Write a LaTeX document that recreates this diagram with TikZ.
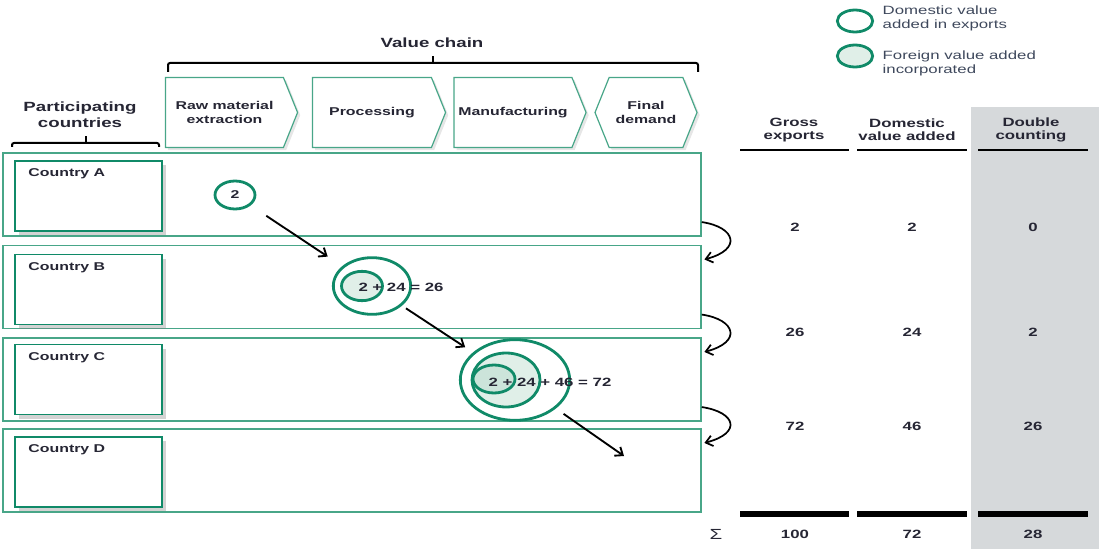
\documentclass[tikz,border=0pt]{standalone}
\usepackage{fontspec}
\setmainfont{Liberation Sans}[FakeStretch=1.4]
\usetikzlibrary{positioning,shapes.symbols,shapes.geometric,shadows,arrows.meta}

\definecolor{vcgreen}{RGB}{16,138,104}
\definecolor{rowgreen}{RGB}{72,166,136}
\definecolor{vafill}{RGB}{224,239,232}
\definecolor{vafilldark}{RGB}{204,228,218}
\definecolor{dcgrey}{RGB}{214,217,219}
\definecolor{ink}{RGB}{38,38,52}
\definecolor{keyink}{RGB}{62,72,92}

\begin{document}
\begin{tikzpicture}[x=0.75pt,y=-0.75pt,
	txt/.style={text=ink,font=\fontsize{8.5}{10}\selectfont\bfseries},
	hd/.style={txt,font=\fontsize{9}{9.75}\selectfont\bfseries,align=center},
	title/.style={txt,font=\fontsize{10}{12}\selectfont\bfseries,align=center},
	num/.style={txt,font=\fontsize{9}{10}\selectfont\bfseries},
	key/.style={text=keyink,font=\fontsize{9}{10.5}\selectfont,align=left,anchor=west},
	stage/.style={shape=signal,signal to=east,signal pointer angle=136,draw=rowgreen,
		line width=0.9pt,fill=white,minimum height=52.5pt,inner sep=1pt,align=center,txt,
		drop shadow={opacity=0.2,shadow xshift=2pt,shadow yshift=-2pt}},
	row/.style={draw=rowgreen,line width=1.1pt,minimum width=523.5pt,minimum height=62.25pt,inner sep=0pt},
	cbox/.style={draw=vcgreen,line width=1.1pt,fill=white,minimum width=110pt,minimum height=52.5pt,
		inner sep=0pt,drop shadow={opacity=0.35,shadow xshift=3pt,shadow yshift=-3pt}},
	ring/.style={ellipse,draw=vcgreen,line width=2.1pt,inner sep=0pt},
	flow/.style={-{Straight Barb[length=5pt,width=8pt]},line width=1.4pt,black},
	rule/.style={line width=2.2pt,black}]
	\useasboundingbox (0,0) rectangle (1099,549);

	% double counting column
	\fill[dcgrey] (971,107) rectangle (1099,549);

	% value chain stages
	\node[title] (vc) at (432,43) {Value chain};
	\draw[line width=1.5pt,rounded corners=1.5pt] (168,72) -- (168,63) -- (698,63) -- (698,72);
	\draw[line width=1.5pt] (433,63) -- (433,56);
	\node[stage,minimum width=99pt] (raw) at (224.5,112.5) {Raw material\\extraction};
	\node[stage,minimum width=99.75pt] (proc) at (372,112.5) {Processing};
	\node[stage,minimum width=99pt] (manu) at (513,112.5) {Manufacturing};
	\node[stage,signal to=west and east,minimum width=76.5pt] (final) at (646,112.5) {Final\\demand};

	% countries
	\node[title] (pc) at (80,115) {Participating\\countries};
	\draw[line width=1.5pt,rounded corners=1.5pt] (12,147) -- (12,143) -- (159,143) -- (159,147);
	\draw[line width=1.5pt] (86,143) -- (86,136);
	\foreach \c/\y/\by in {A/194.5/196,B/287/289.5,C/379.5/379.5,D/470.5/472} {
		\node[row] (row\c) at (352,\y) {};
		\node[cbox] (box\c) at (88.5,\by) {};
		\node[txt,below right=3pt and 7pt of box\c.north west] (lab\c) {Country \c};
	}

	% value added
	\node[ring,fill=white,minimum width=30pt,minimum height=21pt,txt] (circA) at (235,195) {2};
	\node[ring,minimum width=58pt,minimum height=42.5pt] (circBo) at (372,286) {};
	\node[ring,fill=vafill,minimum width=30.75pt,minimum height=22pt] (circBi) at (362,286) {};
	\node[num] (sumB) at (401,287) {2 + 24 = 26};
	\node[ring,minimum width=82pt,minimum height=60.5pt] (circCo) at (515,380) {};
	\node[ring,fill=vafill,minimum width=51pt,minimum height=40.5pt] (circCm) at (506,380) {};
	\node[ring,fill=vafilldark,minimum width=31.5pt,minimum height=21pt] (circCi) at (494,379) {};
	\node[num] (sumC) at (550,382) {2 + 24 + 46 = 72};
	\coordinate (dEnd) at (624,456);

	\draw[flow,shorten <=14pt,shorten >=13pt] (circA) -- (circBo);
	\draw[flow,shorten <=3.6pt,shorten >=7pt] (circBo) -- (circCo);
	\draw[flow,shorten <=7pt] (circCo) -- (dEnd);
	\foreach \u/\v in {A/B,B/C,C/D}
		\draw[flow,line width=1.3pt] ([yshift=11pt]row\u.south east) .. controls +(34,5) and +(38,-10) .. ([xshift=2pt,yshift=-11pt]row\v.north east);

	% legend
	\node[ring,minimum width=26.5pt,minimum height=16.5pt] (keyDom) at (855,21) {};
	\node[ring,fill=vafill,minimum width=26.5pt,minimum height=16.5pt] (keyFor) at (855,56) {};
	\node[key] (keyDomTxt) at (878,18) {Domestic value\\added in exports};
	\node[key] (keyForTxt) at (878,63.5) {Foreign value added\\incorporated};

	% table
	\node[hd] (hGross) at (794,130) {Gross\\exports};
	\node[hd] (hDom) at (907,130) {Domestic\\value added};
	\node[hd] (hDbl) at (1031,130) {Double\\counting};
	\foreach \a/\b in {740/849,857/967,978/1088} {
		\draw[rule] (\a,150) -- (\b,150);
		\draw[rule,line width=4pt] (\a,514) -- (\b,514);
	}
	\foreach \y/\g/\d/\k in {227/2/2/0,332/26/24/2,426/72/46/26,534/100/72/28} {
		\node[num] (gross\y) at (795,\y) {\g};
		\node[num] (dom\y) at (912,\y) {\d};
		\node[num] (dbl\y) at (1033,\y) {\k};
	}
	\node[num,font=\fontsize{11}{12}\selectfont] (sigma) at (716,534) {Σ};
\end{tikzpicture}
\end{document}
